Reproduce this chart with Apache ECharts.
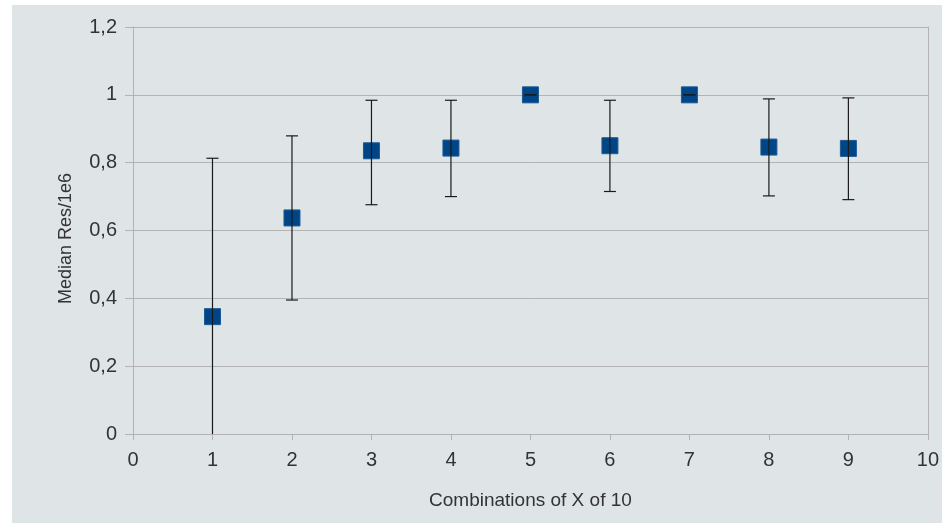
<!DOCTYPE html>
<html><head><meta charset="utf-8">
<script src="https://cdn.jsdelivr.net/npm/echarts@6/dist/echarts.min.js"></script>
<style>html,body{margin:0;padding:0;background:#fff}#c{width:942px;height:523px}</style>
</head><body><div id="c"></div>
<script>
const combos = [1, 2, 3, 4, 5, 6, 7, 8, 9];
const medians = [0.346, 0.637, 0.835, 0.843, 1.0, 0.850, 1.0, 0.846, 0.842];
const errLow = [0.0, 0.395, 0.676, 0.700, 1.0, 0.715, 1.0, 0.702, 0.691];
const errHigh = [0.813, 0.879, 0.984, 0.984, 1.0, 0.984, 1.0, 0.988, 0.991];
const xTicks = [0, 1, 2, 3, 4, 5, 6, 7, 8, 9, 10];
const yTicks = [0, 0.2, 0.4, 0.6, 0.8, 1, 1.2];

const font = "'Liberation Sans', Arial, sans-serif";
const chart = echarts.init(document.getElementById('c'), null, {renderer: 'canvas'});
const fmt = v => String(+(+v).toFixed(1)).replace('.', ',');

chart.setOption({
  backgroundColor: '#ffffff',
  animation: false,
  graphic: [{type: 'rect', left: 12, top: 5, shape: {width: 930, height: 518}, style: {fill: '#dfe5e6'}, z: -10, silent: true}],
  grid: {left: 133, right: 14, top: 27, bottom: 89},
  xAxis: {
    type: 'value', min: xTicks[0], max: xTicks[xTicks.length - 1], interval: 1,
    name: 'Combinations of X of 10', nameLocation: 'middle', nameGap: 57,
    nameTextStyle: {fontFamily: font, fontSize: 19, color: '#333'},
    axisLine: {show: true, onZero: false, lineStyle: {color: '#b3b3b3', width: 1}},
    axisTick: {show: true, length: 6, lineStyle: {color: '#b3b3b3'}},
    axisLabel: {fontFamily: font, fontSize: 20, color: '#333', margin: 16},
    splitLine: {show: false}
  },
  yAxis: [{
    type: 'value', min: yTicks[0], max: yTicks[yTicks.length - 1], interval: 0.2,
    name: 'Median Res/1e6', nameLocation: 'middle', nameGap: 58,
    nameTextStyle: {fontFamily: font, fontSize: 18, color: '#333', padding: [0, 16, 0, 0]},
    axisLine: {show: true, lineStyle: {color: '#b3b3b3', width: 1}},
    axisTick: {show: true, length: 8, lineStyle: {color: '#b3b3b3'}},
    axisLabel: {fontFamily: font, fontSize: 20, color: '#333', margin: 16, formatter: fmt},
    splitLine: {show: true, lineStyle: {color: '#b3b3b3', width: 1}}
  }, {
    type: 'value', position: 'right', min: 0, max: 1.2, interval: 0.2,
    axisLine: {show: true, lineStyle: {color: '#b3b3b3', width: 1}},
    axisTick: {show: false}, axisLabel: {show: false}, splitLine: {show: false}
  }],
  series: [{
    type: 'scatter',
    symbol: 'rect', symbolSize: 16,
    itemStyle: {color: '#004586', borderColor: '#1d5a94', borderWidth: 1, opacity: 1},
    data: combos.map((c, i) => [c, medians[i]]),
    z: 2
  }, {
    type: 'custom',
    z: 3,
    data: combos.map((c, i) => [c, errLow[i], errHigh[i]]),
    renderItem: function (params, api) {
      const x = api.value(0);
      const lo = api.coord([x, api.value(1)]);
      const hi = api.coord([x, api.value(2)]);
      const hw = 6;
      const style = {stroke: '#1a1a1a', lineWidth: 1.2};
      const children = [
        {type: 'line', shape: {x1: lo[0], y1: lo[1], x2: hi[0], y2: hi[1]}, style: style},
        {type: 'line', shape: {x1: hi[0] - hw, y1: hi[1], x2: hi[0] + hw, y2: hi[1]}, style: style}
      ];
      if (api.value(1) > 0) {
        children.push({type: 'line', shape: {x1: lo[0] - hw, y1: lo[1], x2: lo[0] + hw, y2: lo[1]}, style: style});
      }
      return {type: 'group', children: children};
    }
  }]
});
</script></body></html>
